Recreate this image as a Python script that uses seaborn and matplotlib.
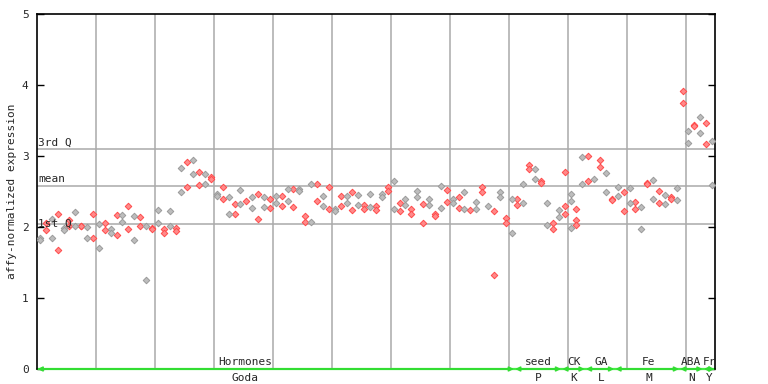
import numpy as np
import pandas as pd
import matplotlib
matplotlib.use("Agg")
import matplotlib.pyplot as plt
import seaborn as sns

nan = np.nan
# replicate values per sample column (0..114)
rep1 = [1.84, 1.96, 1.84, 2.18, 1.99, 2.02, 2.02, 2.02, 2.00, 2.19,
        2.04, 2.05, 1.97, 2.17, 2.17, 2.30, 2.15, 2.14, 2.02, 1.99,
        2.24, 1.97, 2.22, 1.99, 2.83, 2.91, 2.95, 2.77, 2.75, 2.71,
        2.47, 2.57, 2.42, 2.32, 2.52, 2.37, 2.42, 2.47, 2.42, 2.39,
        2.44, 2.43, 2.54, 2.54, 2.54, 2.16, 2.61, 2.60, 2.44, 2.57,
        2.25, 2.43, 2.44, 2.50, 2.45, 2.31, 2.46, 2.29, 2.47, 2.56,
        2.65, 2.34, 2.39, 2.25, 2.51, 2.33, 2.39, 2.18, 2.58, 2.52,
        2.40, 2.42, 2.50, 2.24, 2.35, 2.56, 2.30, 2.23, 2.49, 2.12,
        2.39, 2.39, 2.60, 2.88, 2.81, 2.65, 2.34, 2.06, 2.24, 2.77,
        2.47, 2.25, 2.99, 3.00, 2.68, 2.95, 2.76, 2.39, 2.56, 2.49,
        2.55, 2.35, 2.28, 2.62, 2.66, 2.51, 2.45, 2.42, 2.55, 3.91,
        3.35, 3.43, 3.55, 3.46, 3.21]
rep2 = [1.82, 2.05, 2.11, 1.68, 1.96, 2.10, 2.21, 2.01, 1.85, 1.85,
        1.70, 1.96, 1.92, 1.89, 2.07, 1.97, 1.82, 2.02, 1.26, 1.97,
        2.06, 1.91, 2.02, 1.95, 2.50, 2.56, 2.74, 2.59, 2.61, 2.67,
        2.44, 2.40, 2.19, 2.18, 2.33, nan, 2.27, 2.11, 2.28, 2.27,
        2.34, 2.30, 2.37, 2.28, 2.51, 2.07, 2.07, 2.37, 2.30, 2.25,
        2.22, 2.30, 2.34, 2.24, 2.31, 2.25, 2.28, 2.24, 2.42, 2.51,
        2.25, 2.23, 2.31, 2.19, 2.42, 2.06, 2.31, 2.16, 2.27, 2.35,
        2.34, 2.27, 2.25, nan, 2.25, 2.49, nan, 1.33, 2.42, 2.06,
        1.91, 2.31, 2.34, 2.81, 2.68, 2.62, 2.03, 1.97, 2.14, 2.29,
        2.36, 2.10, 2.60, 2.65, nan, 2.85, 2.49, 2.38, 2.44, 2.22,
        2.34, 2.25, 1.97, 2.60, 2.40, 2.34, 2.33, 2.40, 2.38, 3.74,
        3.18, 3.42, 3.33, 3.17, 2.59]
rep3 = [nan] * 115
rep3[89] = 2.18
rep3[90] = 1.99
rep3[91] = 2.03

# summary lines
q1_value = 2.04
mean_value = 2.58
q3_value = 3.10

# groups: (upper label, lower label, first index, last index, label position)
group_top = ["Hormones", "seed", "CK", "GA", "Fe", "ABA", "Fr"]
group_bottom = ["Goda", "P", "K", "L", "M", "N", "Y"]
group_start = [0, 81, 89, 93, 98, 109, 113]
group_end = [80, 88, 92, 97, 108, 112, 114]
group_label_pos = [34.8, 84.5, 90.6, 95.2, 103.2, 110.5, 113.5]

n = len(rep1)
rows = []
for i in range(n):
    for v in (rep1[i], rep2[i], rep3[i]):
        if not np.isnan(v):
            rows.append({"idx": i, "val": v, "grp": "odd" if i % 2 else "even"})
df = pd.DataFrame(rows)

sns.set_style("white")
plt.rcParams["font.family"] = ["DejaVu Sans Mono"]

fig = plt.figure(figsize=(7.68, 3.84), dpi=100)
ax = fig.add_axes([37 / 768, 1 - 369 / 384, (715 - 37) / 768, (369 - 14) / 384])

red_face, red_edge = "#ff8a8a", "#ff4a4a"
gray_face, gray_edge = "#bdbdbd", "#9a9a9a"

# grid
for k in range(1, 12):
    ax.axvline(-0.5 + 10 * k, color="#aaaaaa", lw=1.1, zorder=1)
for v in (q1_value, mean_value, q3_value):
    ax.axhline(v, color="#aaaaaa", lw=1.1, zorder=1)

sns.scatterplot(data=df[df.grp == "odd"], x="idx", y="val", marker="D", s=11,
                color=red_face, edgecolor=red_edge, linewidth=0.7, ax=ax, zorder=3)
sns.scatterplot(data=df[df.grp == "even"], x="idx", y="val", marker="D", s=11,
                color=gray_face, edgecolor=gray_edge, linewidth=0.7, ax=ax, zorder=3)

ax.set_xlim(-0.5, n - 0.5)
ax.set_ylim(0, 5)
ax.set_xticks([])
ax.set_yticks([0, 1, 2, 3, 4, 5])
ax.set_xlabel("")
ax.set_ylabel("affy-normalized expression", fontsize=8)
ax.yaxis.set_label_coords(-0.029, 0.5)
ax.tick_params(axis="y", direction="in", length=5, width=1, labelsize=8,
               left=True, right=True, pad=6, color="black")
for s in ("left", "top", "right"):
    ax.spines[s].set_color("black")
    ax.spines[s].set_linewidth(1.2)
ax.spines["bottom"].set_visible(False)

# Q labels
ax.text(-0.3, q3_value + 0.02, "3rd Q", fontsize=8, ha="left", va="bottom", zorder=4)
ax.text(-0.3, mean_value + 0.02, "mean", fontsize=8, ha="left", va="bottom", zorder=4)
ax.text(-0.3, q1_value - 0.07, "1st Q", fontsize=8, ha="left", va="bottom", zorder=4)

# green group arrows along the x axis
ax.axhline(0, color="#44ee44", lw=1.6, zorder=2, clip_on=False)
for top, bot, a, b, pos in zip(group_top, group_bottom, group_start, group_end, group_label_pos):
    ax.annotate("", xy=(b + 0.4, 0), xytext=(a - 0.4, 0),
                arrowprops=dict(arrowstyle="<->", color="#33dd33", lw=1.4,
                                mutation_scale=6, shrinkA=0, shrinkB=0),
                annotation_clip=False, zorder=5)
    ax.text(pos, 0.03, top, fontsize=8, ha="center", va="bottom", zorder=6)
    ax.text(pos, -0.05, bot, fontsize=8, ha="center", va="top", clip_on=False)

fig.savefig("out.png", dpi=100)
